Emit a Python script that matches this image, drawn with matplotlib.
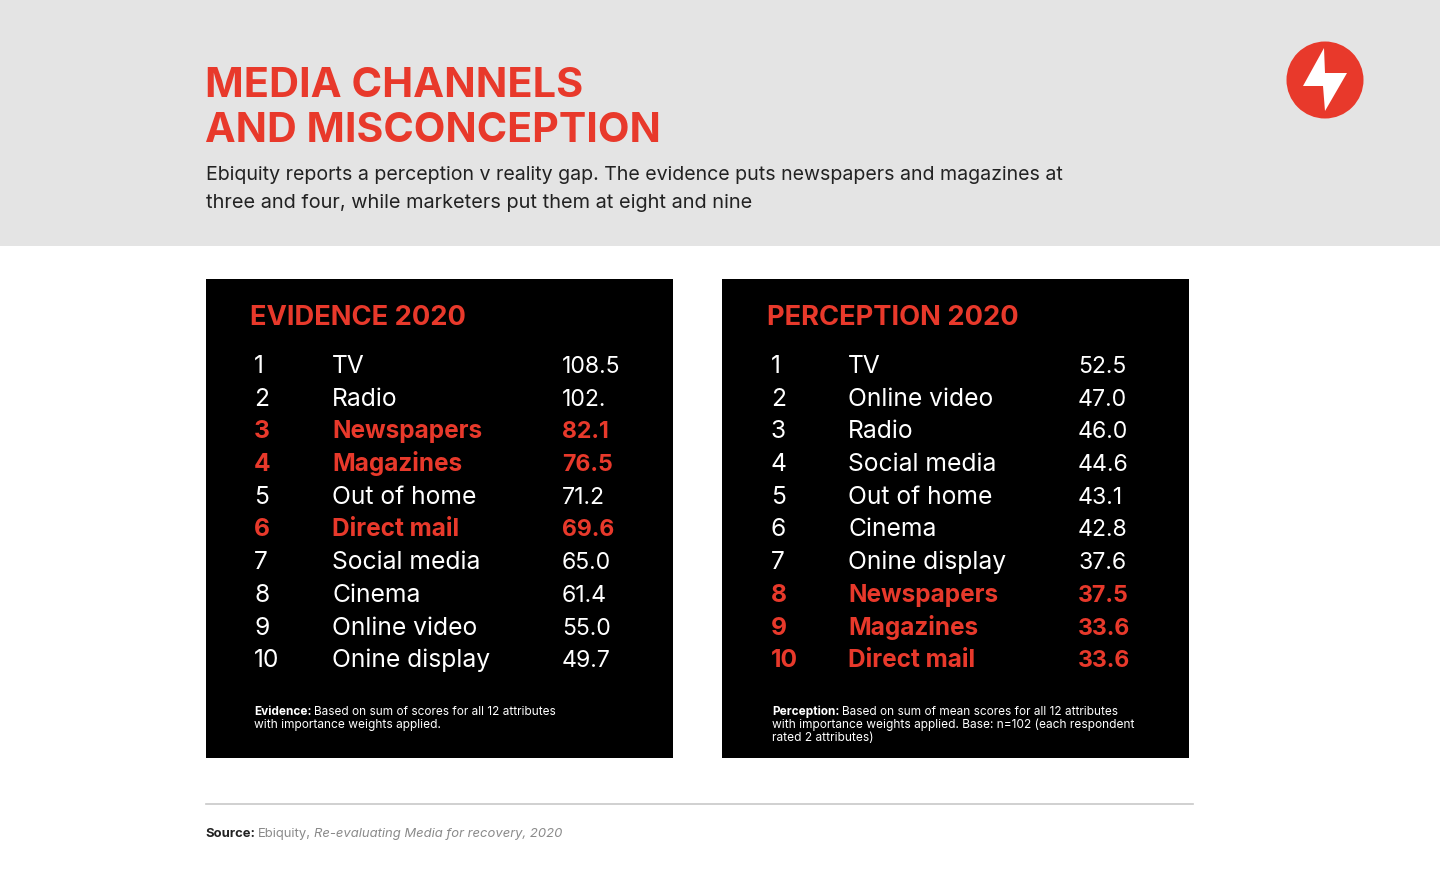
import matplotlib
matplotlib.use('Agg')
import matplotlib.pyplot as plt
from matplotlib.patches import Rectangle, Circle, Polygon

RED = '#e8392b'
plt.rcParams['font.family'] = ['Inter', 'DejaVu Sans']

ev_ranks = ['1', '2', '3', '4', '5', '6', '7', '8', '9', '10']
ev_names = ['TV', 'Radio', 'Newspapers', 'Magazines', 'Out of home', 'Direct mail',
            'Social media', 'Cinema', 'Online video', 'Onine display']
ev_values = ['108.5', '102.', '82.1', '76.5', '71.2', '69.6', '65.0', '61.4', '55.0', '49.7']
ev_red = ['Newspapers', 'Magazines', 'Direct mail']

pe_ranks = ['1', '2', '3', '4', '5', '6', '7', '8', '9', '10']
pe_names = ['TV', 'Online video', 'Radio', 'Social media', 'Out of home', 'Cinema',
            'Onine display', 'Newspapers', 'Magazines', 'Direct mail']
pe_values = ['52.5', '47.0', '46.0', '44.6', '43.1', '42.8', '37.6', '37.5', '33.6', '33.6']
pe_red = ['Newspapers', 'Magazines', 'Direct mail']

fig = plt.figure(figsize=(14.4, 8.96), dpi=100)
ax = fig.add_axes([0, 0, 1, 1])
ax.set_xlim(0, 1440)
ax.set_ylim(896, 0)
ax.axis('off')

# header band
ax.add_patch(Rectangle((0, 0), 1440, 246, color='#e4e4e4', lw=0))
ax.text(205, 97, 'MEDIA CHANNELS', color=RED, fontsize=29.9, fontweight='bold', va='baseline')
ax.text(205, 142, 'AND MISCONCEPTION', color=RED, fontsize=29.6, fontweight='bold', va='baseline')
ax.text(206, 180.5, 'Ebiquity reports a perception v reality gap. The evidence puts newspapers and magazines at',
        color='#222222', fontsize=14.1, va='baseline')
ax.text(206, 207.5, 'three and four, while marketers put them at eight and nine',
        color='#222222', fontsize=14.35, va='baseline')

# logo
ax.add_patch(Circle((1325, 80), 38.5, color=RED, lw=0))
ax.add_patch(Polygon([(1324, 48), (1303, 86), (1323, 86), (1325, 111), (1347, 73), (1325, 73)],
                     color='white', lw=0))


def panel(x0, title, ranks, names, values, red, note_head, note_lines, title_dx, rank_dx, note_dx):
    ax.add_patch(Rectangle((x0, 279), 467, 479, color='black', lw=0))
    ax.text(x0 + title_dx, 325, title, color=RED, fontsize=19.7, fontweight='bold', va='baseline')
    for i, (r, n, v) in enumerate(zip(ranks, names, values)):
        y = 373 + i * 32.7
        hot = n in red
        col = RED if hot else 'white'
        w = 'bold' if hot else 'normal'
        fs_name = 17.5 if hot else 17.75
        ax.text(x0 + rank_dx, y, r, color=col, fontsize=17.7, fontweight=w, va='baseline')
        ax.text(x0 + 126, y, n, color=col, fontsize=fs_name, fontweight=w, va='baseline')
        ax.text(x0 + 356, y, v, color=col, fontsize=16.6, fontweight=w, va='baseline')
    ny = 715
    head = ax.text(x0 + note_dx, ny, note_head, color='white', fontsize=8.5, fontweight='bold', va='baseline')
    fig.canvas.draw()
    bb = head.get_window_extent()
    ax.text(bb.x1 + 3, ny, note_lines[0], color='white', fontsize=8.5, va='baseline')
    for j, line in enumerate(note_lines[1:]):
        ax.text(x0 + note_dx, ny + 13 * (j + 1), line, color='white', fontsize=8.6, va='baseline')


panel(206, 'EVIDENCE 2020', ev_ranks, ev_names, ev_values, ev_red, 'Evidence:',
      ['Based on sum of scores for all 12 attributes', 'with importance weights applied.'], 44, 48, 48)
panel(722, 'PERCEPTION 2020', pe_ranks, pe_names, pe_values, pe_red, 'Perception:',
      ['Based on sum of mean scores for all 12 attributes',
       'with importance weights applied. Base: n=102 (each respondent',
       'rated 2 attributes)'], 45, 49, 50)

# source line
ax.plot([206, 1193], [804.5, 804.5], color='#c8c8c8', lw=1.2)
src = ax.text(205, 837, 'Source:', color='#222222', fontsize=9.4, fontweight='bold', va='baseline')
fig.canvas.draw()
x1 = src.get_window_extent().x1
e = ax.text(x1 + 3, 837, 'Ebiquity,', color='#8a8a8a', fontsize=9.4, va='baseline')
fig.canvas.draw()
ax.text(e.get_window_extent().x1 + 3, 837, 'Re-evaluating Media for recovery, 2020', color='#8a8a8a',
        fontsize=9.4, style='italic', va='baseline')

fig.savefig('out.png', dpi=100)
